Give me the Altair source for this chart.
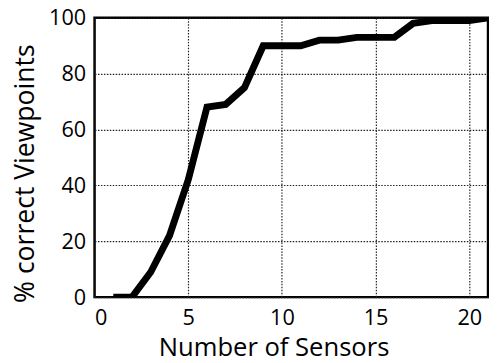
import altair as alt
import pandas as pd

sensors = [1, 2, 3, 4, 5, 6, 7, 8, 9, 10, 11, 12, 13, 14, 15, 16, 17, 18, 19, 20, 21]
correct = [0, 0, 9, 22, 42, 68, 69, 75, 90, 90, 90, 92, 92, 93, 93, 93, 98, 99, 99, 99, 100]

df = pd.DataFrame({"sensors": sensors, "correct": correct})

FONT = "Open Sans"

chart = alt.Chart(df).mark_line(color="black", strokeWidth=7, strokeJoin="miter", clip=True).encode(
    x=alt.X("sensors:Q", scale=alt.Scale(domain=[0, 21], nice=False, zero=False),
            axis=alt.Axis(values=[0, 5, 10, 15, 20], title="Number of Sensors", format="d",
                          titleX=182)),
    y=alt.Y("correct:Q", scale=alt.Scale(domain=[0, 100], nice=False),
            axis=alt.Axis(values=[0, 20, 40, 60, 80, 100], title="% correct Viewpoints",
                          titleY=158)),
).properties(
    width=400, height=284,
    autosize=alt.AutoSizeParams(type="none"),
    padding={"left": 88, "top": 7, "right": 1, "bottom": 64},
).configure_view(
    stroke="black", strokeWidth=2.5
).configure_axis(
    grid=True, gridColor="#222222", gridDash=[1.5, 1.5], gridWidth=1.2,
    domain=False, ticks=False,
    labelFont=FONT, labelFontSize=22, labelColor="black",
    titleFont=FONT, titleFontSize=26, titleColor="black", titleFontWeight="normal",
).configure_axisX(
    labelPadding=11, titlePadding=6,
).configure_axisY(
    labelPadding=9, titlePadding=9, titleFontSize=27,
)

chart.save("out.html", embed_options={"renderer": "svg", "actions": False})
